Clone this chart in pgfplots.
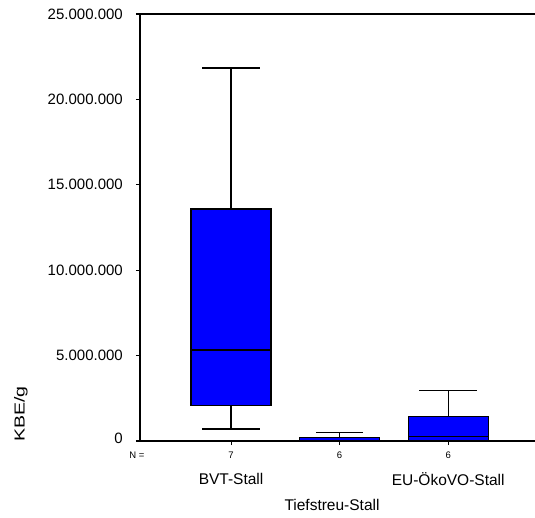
\documentclass[border=0pt]{standalone}
\usepackage{pgfplots}
\pgfplotsset{compat=1.18}
\usepgfplotslibrary{statistics}
\usepackage{fontspec}
\setmainfont{Liberation Sans}
\begin{document}
\begin{tikzpicture}
% values in millions KBE/g
\begin{axis}[
  at={(0,0)}, anchor=south west,
  scale only axis, width=395pt, height=427pt,
  xmin=0.161, xmax=3.80, ymin=0, ymax=25,
  separate axis lines,
  axis x line*=box, axis y line*=left,
  xtick pos=left, ytick pos=left,
  axis line style={line width=1.3pt},
  tick align=outside, major tick length=4pt,
  tick style={line width=1.1pt, black},
  xtick={1,2,3}, xticklabels={7,6,6},
  xticklabel style={font=\fontsize{9.5}{10}\selectfont, inner sep=0pt, anchor=center, yshift=-10pt},
  ytick={0,5,10,15,20,25},
  yticklabels={\raisebox{5pt}{0},5.000.000,10.000.000,15.000.000,20.000.000,25.000.000},
  yticklabel style={font=\fontsize{15}{17}\selectfont, inner sep=0pt, anchor=east, xshift=-13pt},
  boxplot/draw direction=y,
  boxplot/box extend=0.737,
  boxplot/whisker extend=0.53,
  clip=false,
]
\addplot[draw=black, line width=1.2pt, fill=blue, boxplot prepared={
  draw position=1, lower whisker=0.70, lower quartile=2.10,
  median=5.33, upper quartile=13.58, upper whisker=21.84}]
  coordinates {};
\addplot[draw=black, line width=1.2pt, fill=blue, boxplot/whisker extend=0.43, boxplot prepared={
  draw position=2, lower whisker=0, lower quartile=0,
  median=0.05, upper quartile=0.22, upper whisker=0.51}]
  coordinates {};
\addplot[draw=black, line width=1.2pt, fill=blue, boxplot prepared={
  draw position=3, lower whisker=0, lower quartile=0,
  median=0.25, upper quartile=1.42, upper whisker=2.95}]
  coordinates {};
\node[font=\fontsize{9.5}{10}\selectfont, inner sep=0pt] at ([xshift=-3pt, yshift=-14pt]rel axis cs:0,0) {N =};
\node[font=\fontsize{15.5}{17}\selectfont, inner sep=0pt] at ([yshift=-38pt]axis cs:1,0) {BVT-Stall};
\node[font=\fontsize{15.5}{17}\selectfont, inner sep=0pt] at ([yshift=-38pt]axis cs:3,0) {EU-ÖkoVO-Stall};
\node[font=\fontsize{15.5}{17}\selectfont, inner sep=0pt] at ([yshift=-64pt]axis cs:1.93,0) {Tiefstreu-Stall};
\node[font=\fontsize{14.5}{16}\selectfont, inner sep=0pt, rotate=90] at ([xshift=-119pt, yshift=27pt]rel axis cs:0,0) {\scalebox{1.35}[1]{KBE/g}};
\end{axis}
\pgfresetboundingbox
\useasboundingbox (-140pt,-76pt) rectangle (395pt,441pt);
\end{tikzpicture}
\end{document}
